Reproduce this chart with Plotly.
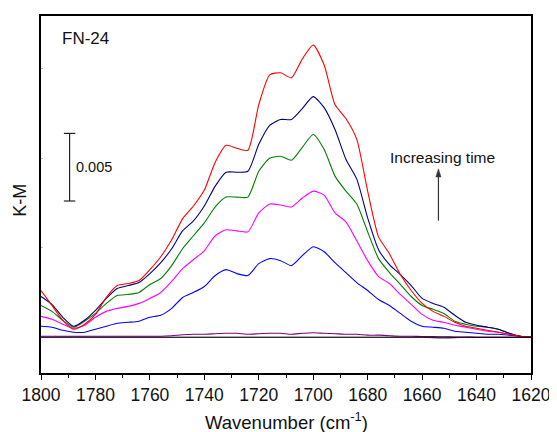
import numpy as np
import plotly.graph_objects as go

# Wavenumbers (cm-1), 1800 -> 1620 every 4 cm-1
wavenumber = list(range(1800, 1619, -4))

# K-M values in units of 1e-3
km_red = [3.45, 2.35, 1.25, 0.59, 0.96, 1.69, 2.94, 3.82, 3.97, 4.19,
          5.00, 5.95, 7.20, 8.75, 9.70, 10.88, 12.94, 14.19, 13.97, 13.82,
          17.20, 19.40, 19.55, 19.18, 20.58, 21.61, 20.14, 17.20, 16.17, 14.63,
          10.80, 7.42, 6.17, 4.63, 3.45, 2.50, 1.91, 1.54, 1.10, 0.81,
          0.66, 0.51, 0.37, 0.22, 0.07, 0.0]
km_navy = [3.01, 2.43, 1.47, 0.81, 1.25, 1.98, 2.87, 3.60, 3.82, 4.04,
           4.70, 5.51, 6.54, 7.86, 8.60, 9.70, 11.17, 12.20, 12.20, 12.27,
           14.26, 15.66, 16.10, 16.10, 16.91, 17.79, 16.98, 15.36, 13.16, 11.69,
           8.82, 6.47, 5.37, 4.63, 3.82, 2.87, 2.50, 2.21, 1.62, 1.10,
           0.88, 0.74, 0.59, 0.29, 0.07, 0.0]
km_green = [2.35, 1.91, 1.25, 0.74, 1.18, 1.76, 2.50, 3.09, 3.16, 3.31,
            3.90, 4.34, 5.29, 6.54, 7.50, 8.45, 9.63, 10.36, 10.36, 10.36,
            12.27, 13.23, 13.38, 13.08, 14.04, 14.99, 13.89, 11.91, 10.80, 9.85,
            7.79, 5.81, 4.78, 3.90, 3.01, 2.35, 2.06, 1.76, 1.18, 0.96,
            0.81, 0.74, 0.59, 0.29, 0.07, 0.0]
km_magenta = [1.54, 1.32, 0.96, 0.66, 0.88, 1.47, 1.91, 2.13, 2.28, 2.50,
              2.87, 3.31, 4.12, 5.07, 5.73, 6.39, 7.50, 7.94, 7.86, 7.79,
              9.19, 9.85, 9.78, 9.63, 10.29, 10.80, 10.51, 9.19, 8.53, 7.13,
              5.66, 4.48, 3.97, 3.16, 2.43, 1.69, 1.25, 1.10, 0.88, 0.74,
              0.59, 0.44, 0.37, 0.22, 0.07, 0.0]
km_blue = [0.81, 0.74, 0.51, 0.37, 0.37, 0.59, 0.81, 1.03, 1.10, 1.18,
           1.47, 1.62, 2.13, 2.94, 3.31, 3.75, 4.56, 5.00, 4.70, 4.56,
           5.44, 5.81, 5.66, 5.29, 6.03, 6.69, 6.32, 5.51, 4.78, 4.04,
           3.45, 2.79, 2.35, 1.76, 1.18, 0.81, 0.74, 0.66, 0.44, 0.37,
           0.29, 0.22, 0.22, 0.15, 0.07, 0.0]
km_purple = [0.07, 0.07, 0.07, 0.07, 0.07, 0.07, 0.07, 0.07, 0.07, 0.07,
             0.07, 0.07, 0.11, 0.18, 0.22, 0.22, 0.26, 0.29, 0.29, 0.22,
             0.26, 0.29, 0.29, 0.22, 0.29, 0.33, 0.29, 0.26, 0.22, 0.22,
             0.15, 0.15, 0.11, 0.07, 0.07, 0.05, 0.04, 0.03, 0.02, 0.01,
             0.0, 0.0, 0.0, 0.0, 0.0, 0.0]
km_gray = [0.0, 0.0, 0.02, 0.03, 0.02, 0.0, 0.0, 0.0, 0.0, 0.0,
           0.0, 0.0, 0.0, 0.0, 0.0, 0.0, 0.0, 0.0, 0.0, 0.0,
           0.0, 0.0, 0.0, 0.0, 0.0, 0.0, 0.0, 0.0, 0.0, 0.0,
           0.0, 0.0, 0.0, 0.0, 0.0, 0.0, -0.05, -0.10, -0.05, 0.0,
           0.0, 0.0, 0.0, 0.0, 0.0, 0.0]

scale = 1e-3
series = [
    ("gray", km_gray, "#9a9a9a"),
    ("purple", km_purple, "#800080"),
    ("blue", km_blue, "#0000FF"),
    ("magenta", km_magenta, "#FF00FF"),
    ("green", km_green, "#008000"),
    ("navy", km_navy, "#000080"),
    ("red", km_red, "#FF0000"),
]

FONT = "Liberation Sans, Arial, sans-serif"

fig = go.Figure()
for name, vals, col in series:
    fig.add_trace(go.Scatter(
        x=wavenumber, y=np.array(vals) * scale, mode="lines", name=name,
        line=dict(color=col, width=1.1, shape="spline", smoothing=0.6),
        showlegend=False, hoverinfo="skip"))

# zero baseline
fig.add_trace(go.Scatter(x=[1800, 1620], y=[0, 0], mode="lines",
                         line=dict(color="black", width=1.1),
                         showlegend=False, hoverinfo="skip"))

# scale bar (0.005)
bar_x = 1789.5
bar_lo, bar_hi = 0.01007, 0.01507
bar_col = "#222222"
fig.add_shape(type="line", x0=bar_x, x1=bar_x, y0=bar_lo, y1=bar_hi,
              xref="x", yref="y", line=dict(color=bar_col, width=1.2))
for yy in (bar_lo, bar_hi):
    fig.add_shape(type="line", x0=bar_x + 2.1, x1=bar_x - 2.1, y0=yy, y1=yy,
                  xref="x", yref="y", line=dict(color=bar_col, width=1.2))
fig.add_annotation(x=1787.8, y=0.01257, xref="x", yref="y", text="0.005",
                   showarrow=False, xanchor="left", yanchor="middle",
                   font=dict(family=FONT, size=14.5, color="#111"))

fig.add_annotation(x=1793.0, y=0.0221, xref="x", yref="y", text="FN-24",
                   showarrow=False, xanchor="left", yanchor="middle",
                   font=dict(family=FONT, size=17, color="#111"))

fig.add_annotation(x=1652.5, y=0.0133, xref="x", yref="y", text="Increasing time",
                   showarrow=False, xanchor="center", yanchor="middle",
                   font=dict(family=FONT, size=15.5, color="#111"))

# arrow: shaft + head
arr_x, arr_lo, arr_tip = 1654.0, 0.00862, 0.01245
arr_col = "#333333"
fig.add_shape(type="line", x0=arr_x, x1=arr_x, y0=arr_lo, y1=arr_tip - 0.0004,
              xref="x", yref="y", line=dict(color=arr_col, width=1.2))
fig.add_shape(type="path", xref="x", yref="y",
              path=f"M {arr_x + 0.95},{arr_tip - 0.0006} L {arr_x - 0.95},{arr_tip - 0.0006} "
                   f"L {arr_x},{arr_tip} Z",
              fillcolor=arr_col, line=dict(color=arr_col, width=0.5))

fig.update_xaxes(range=[1800, 1620], tickvals=list(range(1800, 1619, -20)),
                 ticks="outside", ticklen=5, tickwidth=1, tickcolor="black",
                 minor=dict(ticks="outside", ticklen=3, tickcolor="black",
                            dtick=10, showgrid=False),
                 showline=True, linecolor="black", linewidth=1.5, mirror=True,
                 showgrid=False, zeroline=False,
                 tickfont=dict(family=FONT, size=17.5, color="#111"))
fig.update_yaxes(range=[-0.002647, 0.02375],
                 tickvals=[0.00662, 0.01323, 0.01985], showticklabels=False,
                 ticks="inside", ticklen=2, tickcolor="#bbbbbb",
                 showline=True, linecolor="black", linewidth=1.5, mirror=True,
                 showgrid=False, zeroline=False)

fig.add_annotation(x=0.5, y=-0.135, xref="paper", yref="paper",
                   text="Wavenumber (cm<sup>-1</sup>)", showarrow=False,
                   xanchor="center", yanchor="middle",
                   font=dict(family=FONT, size=18.5, color="#111"))
fig.add_annotation(x=-0.043, y=0.485, xref="paper", yref="paper",
                   text="K-M", showarrow=False, textangle=-90,
                   xanchor="center", yanchor="middle",
                   font=dict(family=FONT, size=18, color="#111"))

# the page body adds an 8px offset; compensate in size and margins
fig.update_layout(width=549, height=424,
                  margin=dict(l=33, r=23, t=6, b=59),
                  plot_bgcolor="white", paper_bgcolor="white",
                  font=dict(family=FONT, color="#111"))

fig.write_html("out.html")
